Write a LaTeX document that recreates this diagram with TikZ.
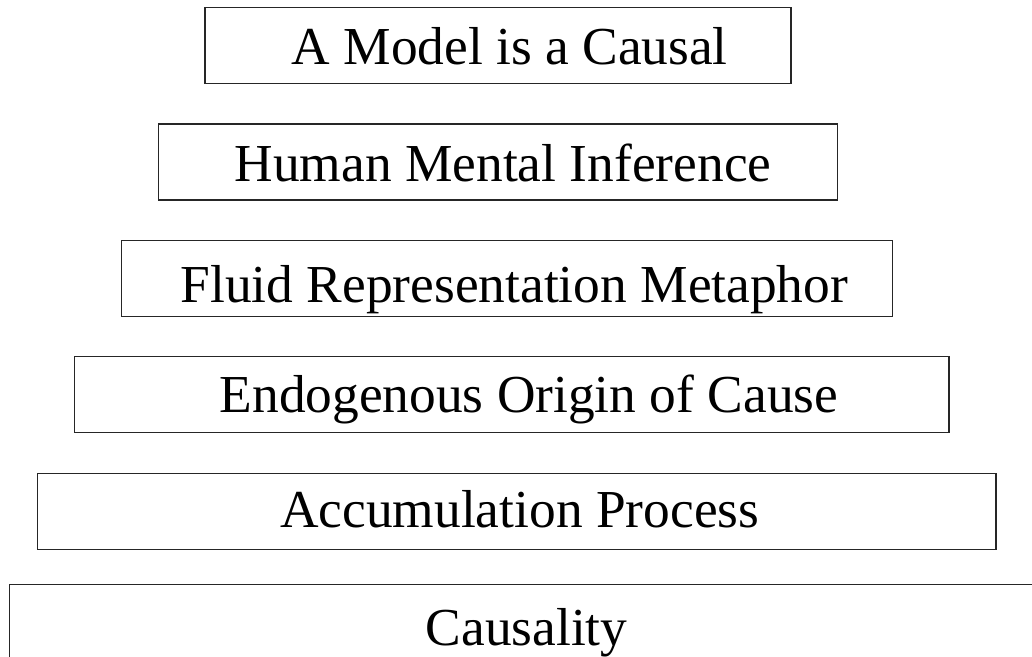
\documentclass[tikz,border=0pt]{standalone}
\usepackage{fontspec}
\setmainfont{Liberation Serif}
\tikzset{
  tier/.style={draw=black!85, line width=1.3pt, rectangle, minimum height=76pt, inner sep=0pt, fill=none},
  label/.style={anchor=base west, inner sep=0pt, font=\fontsize{53.4}{60}\selectfont, text=black}
}
\begin{document}
\begin{tikzpicture}[x=1pt,y=-1pt]
\useasboundingbox (0,0) rectangle (1032,656);
\clip (0,0) rectangle (1032,656);
\fill[white] (0,0) rectangle (1032,656);
\node[tier, minimum width=586pt] (b1) at (498,45.3) {};
\node[tier, minimum width=679pt] (b2) at (497.8,162) {};
\node[tier, minimum width=771pt] (b3) at (507.2,278.7) {};
\node[tier, minimum width=874.3pt] (b4) at (511.85,394.7) {};
\node[tier, minimum width=958.7pt] (b5) at (516.65,511.3) {};
\node[tier, minimum width=1030.7pt, minimum height=76.3pt] (b6) at (524.65,622.85) {};
\node[label] (t1) at (291.5,64) {A Model is a Causal};
\node[label] (t2) at (234.5,181.7) {Human Mental Inference};
\node[label] (t3) at (180.5,302) {Fluid Representation Metaphor};
\node[label] (t4) at (219.5,412.3) {Endogenous Origin of Cause};
\node[label] (t5) at (280,527.3) {Accumulation Process};
\node[label] (t6) at (425.5,645) {Causality};
\end{tikzpicture}
\end{document}
